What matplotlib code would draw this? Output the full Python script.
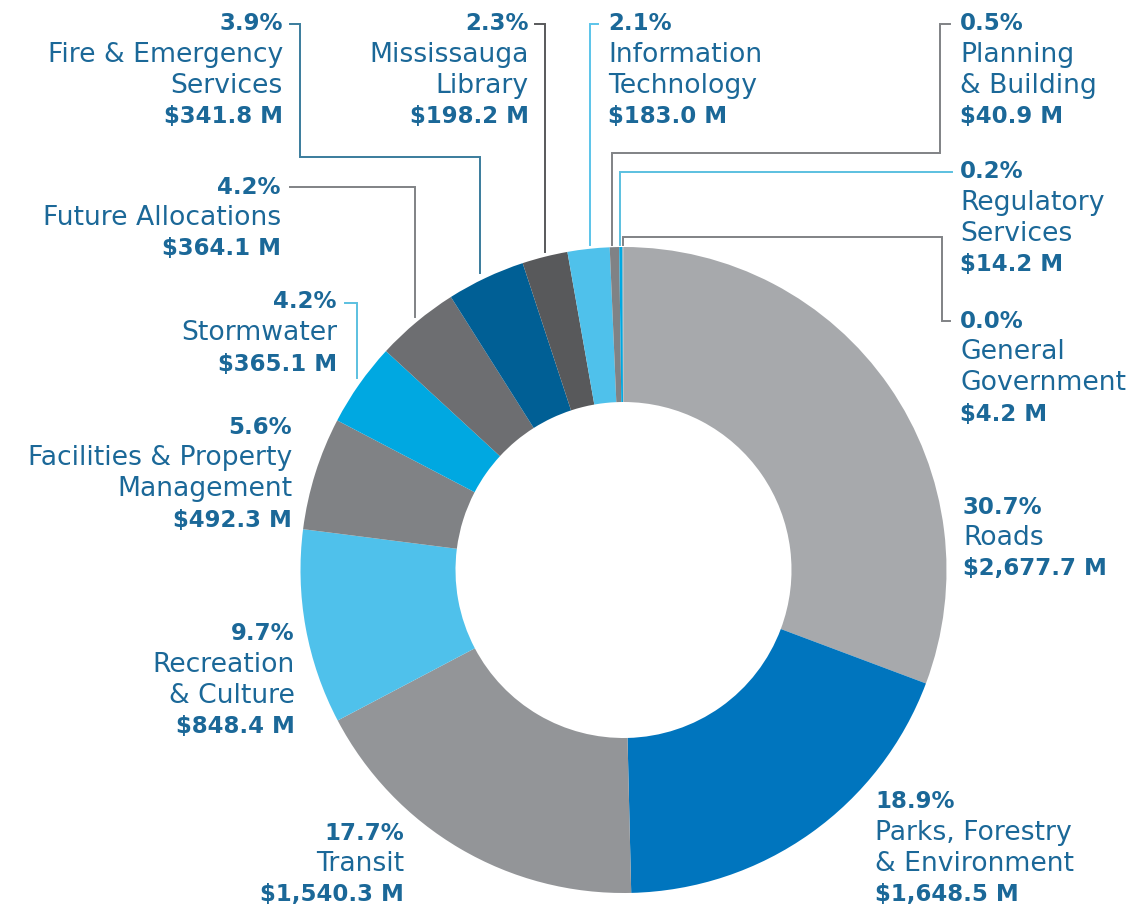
import matplotlib
matplotlib.use('Agg')
import matplotlib.pyplot as plt

# capital budget by service area ($ millions), clockwise from 12 o'clock
names = ["Roads", "Parks, Forestry\n& Environment", "Transit", "Recreation\n& Culture",
         "Facilities & Property\nManagement", "Stormwater", "Future Allocations",
         "Fire & Emergency\nServices", "Mississauga\nLibrary", "Information\nTechnology",
         "Planning\n& Building", "Regulatory\nServices", "General\nGovernment"]
values = [2677.7, 1648.5, 1540.3, 848.4, 492.3, 365.1, 364.1, 341.8, 198.2, 183.0,
          40.9, 14.2, 4.2]
colors = ["#A7A9AC", "#0075BE", "#939598", "#4FC1EB", "#808285", "#00A8E1", "#6D6E71",
          "#005F95", "#58595B", "#4FC1EB", "#808285", "#00A8E1", "#A7A9AC"]

# label anchor (x, y of first line in pixels from top, alignment)
label_pos = [(963, 507, "left"), (875, 802, "left"), (404, 833, "right"),
             (295, 634, "right"), (292, 427, "right"), (337, 302, "right"),
             (281, 187, "right"), (283, 24, "right"), (529, 24, "right"),
             (608, 24, "left"), (960, 24, "left"), (960, 172, "left"),
             (960, 321, "left")]

# leader lines (pixels from top), keyed by slice index
leaders = {
    7: ([(290, 24), (300, 24), (300, 157), (480, 157), (480, 273)], "#3A7C9C"),
    6: ([(290, 187), (415, 187), (415, 317)], "#808285"),
    5: ([(345, 303), (357, 303), (357, 378)], "#5BC0E0"),
    8: ([(535, 24), (545, 24), (545, 252)], "#58595B"),
    9: ([(598, 24), (590, 24), (590, 245)], "#5BC4EA"),
    10: ([(950, 24), (940, 24), (940, 153), (612, 153), (612, 245)], "#808285"),
    11: ([(952, 172), (620, 172), (620, 245)], "#5BC0E0"),
    12: ([(950, 321), (942, 321), (942, 237), (623, 237), (623, 245)], "#808285"),
}

W, H = 1141, 910
TXT = "#1B6898"
FONT = "DejaVu Sans"
FS_BOLD = 16.5
FS_NORM = 19.2
PITCH = 31

fig = plt.figure(figsize=(W / 100, H / 100), dpi=100)
ax = fig.add_axes([0, 0, 1, 1])

ax.pie(values, colors=colors, startangle=90, counterclock=False,
       radius=323, center=(623.5, H - 570),
       wedgeprops=dict(width=323 - 168, linewidth=0))

for idx, (pts, col) in leaders.items():
    ax.plot([p[0] for p in pts], [H - p[1] for p in pts], color=col, lw=1.4,
            solid_joinstyle="miter", zorder=1)

total = sum(values)
for name, val, (x, y, ha) in zip(names, values, label_pos):
    lines = [(f"{val / total * 100:.1f}%", "bold")]
    lines += [(s, "normal") for s in name.split("\n")]
    lines += [(f"${val:,.1f} M", "bold")]
    for i, (s, w) in enumerate(lines):
        ax.text(x, H - (y + i * PITCH), s, ha=ha, va="center", color=TXT,
                fontsize=FS_BOLD if w == "bold" else FS_NORM, fontweight=w,
                family=FONT)

ax.set_xlim(0, W)
ax.set_ylim(0, H)
ax.set_aspect("equal")
ax.axis("off")

plt.savefig("out.png", dpi=100)
